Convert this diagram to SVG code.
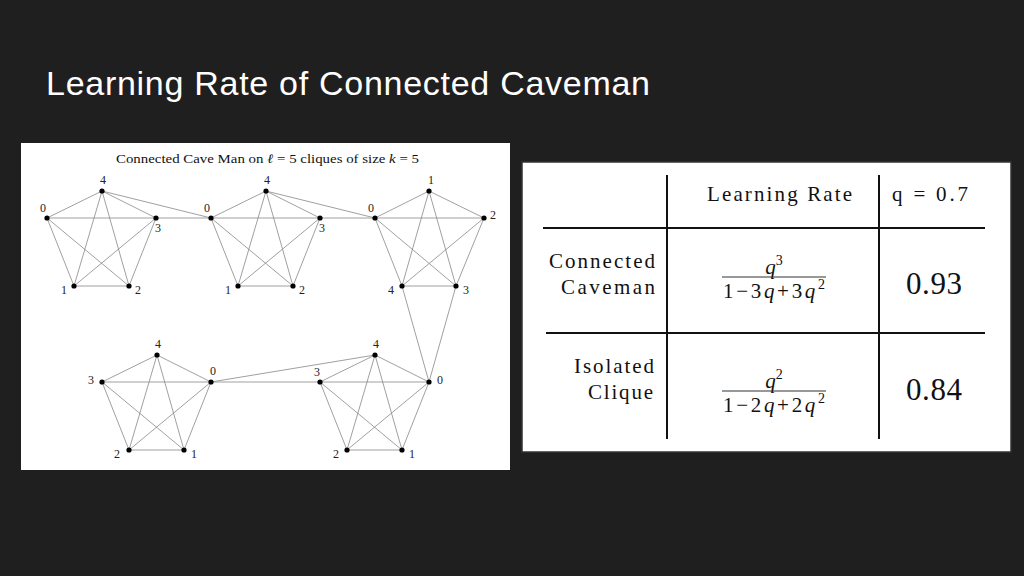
<svg xmlns="http://www.w3.org/2000/svg" width="1024" height="576" viewBox="0 0 1024 576">
<style>
.e{fill:none;stroke:#888;stroke-width:0.8}
.n{fill:#000}
.l{font-family:"Liberation Serif",serif;font-size:12px;fill:#222}
.t{font-family:"Liberation Serif",serif;fill:#111}
.g{stroke:#111;stroke-width:2}
</style>
<rect width="1024" height="576" fill="#1f1f1f"/>
<text x="46" y="95" font-family="Liberation Sans,Arial,sans-serif" font-size="34" fill="#fff" textLength="604">Learning Rate of Connected Caveman</text>
<rect x="21" y="143" width="489" height="327" fill="#fff"/>
<text x="116" y="163" class="t" font-size="13" textLength="303" lengthAdjust="spacingAndGlyphs">Connected Cave Man on <tspan font-style="italic">ℓ</tspan> = 5 cliques of size <tspan font-style="italic">k</tspan> = 5</text>
<g id="connectors">
<polygon class="e" points="47,218 102,191 156,218 129,286 74,286"/>
<polygon class="e" points="47,218 156,218 74,286 102,191 129,286"/>
<polygon class="e" points="211,218 266,191 320,218 293,286 238,286"/>
<polygon class="e" points="211,218 320,218 238,286 266,191 293,286"/>
<polygon class="e" points="375,218 429,191 484,218 456,286 402,286"/>
<polygon class="e" points="375,218 484,218 402,286 429,191 456,286"/>
<polygon class="e" points="102,382 157,355 211,382 184,450 129,450"/>
<polygon class="e" points="102,382 211,382 129,450 157,355 184,450"/>
<polygon class="e" points="320,382 375,355 429,382 402,450 347,450"/>
<polygon class="e" points="320,382 429,382 347,450 375,355 402,450"/>
<line class="e" x1="102" y1="191" x2="211" y2="218"/>
<line class="e" x1="156" y1="218" x2="211" y2="218"/>
<line class="e" x1="266" y1="191" x2="375" y2="218"/>
<line class="e" x1="320" y1="218" x2="375" y2="218"/>
<line class="e" x1="402" y1="286" x2="429" y2="382"/>
<line class="e" x1="456" y1="286" x2="429" y2="382"/>
<line class="e" x1="211" y1="382" x2="375" y2="355"/>
<line class="e" x1="211" y1="382" x2="320" y2="382"/>
</g>
<g id="cliqueA">
<circle class="n" cx="47" cy="218" r="2.6"/><circle class="n" cx="102" cy="191" r="2.6"/><circle class="n" cx="156" cy="218" r="2.6"/><circle class="n" cx="74" cy="286" r="2.6"/><circle class="n" cx="129" cy="286" r="2.6"/>
<text class="l" x="40" y="212">0</text><text class="l" x="100" y="184">4</text><text class="l" x="155" y="232">3</text><text class="l" x="61" y="294">1</text><text class="l" x="135" y="294">2</text>
</g>
<g id="cliqueB">
<circle class="n" cx="211" cy="218" r="2.6"/><circle class="n" cx="266" cy="191" r="2.6"/><circle class="n" cx="320" cy="218" r="2.6"/><circle class="n" cx="238" cy="286" r="2.6"/><circle class="n" cx="293" cy="286" r="2.6"/>
<text class="l" x="204" y="212">0</text><text class="l" x="264" y="184">4</text><text class="l" x="319" y="232">3</text><text class="l" x="225" y="294">1</text><text class="l" x="299" y="294">2</text>
</g>
<g id="cliqueC">
<circle class="n" cx="375" cy="218" r="2.6"/><circle class="n" cx="429" cy="191" r="2.6"/><circle class="n" cx="484" cy="218" r="2.6"/><circle class="n" cx="456" cy="286" r="2.6"/><circle class="n" cx="402" cy="286" r="2.6"/>
<text class="l" x="368" y="212">0</text><text class="l" x="428" y="184">1</text><text class="l" x="490" y="219">2</text><text class="l" x="463" y="294">3</text><text class="l" x="388" y="294">4</text>
</g>
<g id="cliqueD">
<circle class="n" cx="102" cy="382" r="2.6"/><circle class="n" cx="157" cy="355" r="2.6"/><circle class="n" cx="211" cy="382" r="2.6"/><circle class="n" cx="184" cy="450" r="2.6"/><circle class="n" cx="129" cy="450" r="2.6"/>
<text class="l" x="88" y="384">3</text><text class="l" x="155" y="348">4</text><text class="l" x="210" y="375">0</text><text class="l" x="191" y="458">1</text><text class="l" x="114" y="458">2</text>
</g>
<g id="cliqueE">
<circle class="n" cx="320" cy="382" r="2.6"/><circle class="n" cx="375" cy="355" r="2.6"/><circle class="n" cx="429" cy="382" r="2.6"/><circle class="n" cx="402" cy="450" r="2.6"/><circle class="n" cx="347" cy="450" r="2.6"/>
<text class="l" x="314" y="376">3</text><text class="l" x="373" y="348">4</text><text class="l" x="437" y="384">0</text><text class="l" x="409" y="458">1</text><text class="l" x="333" y="458">2</text>
</g>
<g id="table">
<rect x="522" y="162" width="489" height="290" fill="#fff" stroke="#333" stroke-width="1.5"/>
<line class="g" x1="667" y1="175" x2="667" y2="439"/>
<line class="g" x1="879" y1="175" x2="879" y2="439"/>
<line class="g" x1="543" y1="228" x2="985" y2="228"/>
<line class="g" x1="546" y1="333" x2="985" y2="333"/>
<text class="t" x="707" y="201" font-size="21" textLength="145">Learning Rate</text>
<text class="t" x="892" y="201" font-size="21" textLength="76">q = 0.7</text>
<text class="t" x="549" y="268" font-size="21" textLength="106">Connected</text>
<text class="t" x="561" y="294" font-size="21" textLength="94">Caveman</text>
<text class="t" x="574" y="373" font-size="21" textLength="80">Isolated</text>
<text class="t" x="588" y="399" font-size="21" textLength="65">Clique</text>
<text class="t" x="774" y="274" font-size="21" text-anchor="middle"><tspan font-style="italic">q</tspan><tspan font-size="14" dy="-9">3</tspan></text>
<line x1="722" y1="277" x2="826" y2="277" stroke="#333" stroke-width="1"/>
<text class="t" x="723" y="298" font-size="21" textLength="102">1−3<tspan font-style="italic">q</tspan>+3<tspan font-style="italic">q</tspan><tspan font-size="14" dy="-9">2</tspan></text>
<text class="t" x="774" y="388" font-size="21" text-anchor="middle"><tspan font-style="italic">q</tspan><tspan font-size="14" dy="-9">2</tspan></text>
<line x1="722" y1="391" x2="826" y2="391" stroke="#333" stroke-width="1"/>
<text class="t" x="723" y="412" font-size="21" textLength="102">1−2<tspan font-style="italic">q</tspan>+2<tspan font-style="italic">q</tspan><tspan font-size="14" dy="-9">2</tspan></text>
<text class="t" x="906" y="294" font-size="31" textLength="56">0.93</text>
<text class="t" x="906" y="400" font-size="31" textLength="56">0.84</text>
</g>
</svg>
